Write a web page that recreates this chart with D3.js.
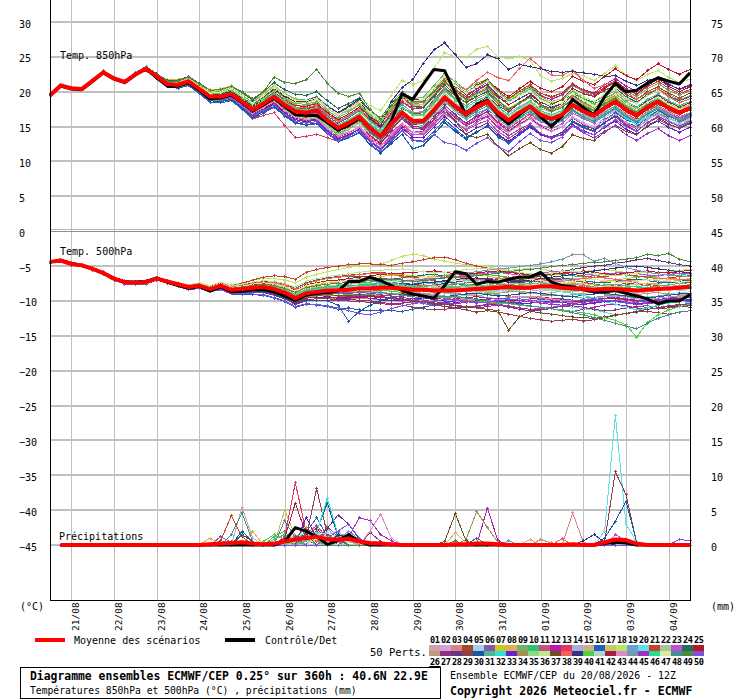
<!DOCTYPE html>
<html lang="fr">
<head>
<meta charset="utf-8">
<title>Diagramme ensembles ECMWF/CEP</title>
<script src="https://cdn.jsdelivr.net/npm/d3@7"></script>
<style>
  body { margin: 0; background: #fff; }
  svg { display: block; font-family: "DejaVu Sans Mono", monospace; }
  .grid line { stroke: #c0c0c0; shape-rendering: crispEdges; }
  .member { fill: none; stroke-width: 1; shape-rendering: crispEdges; }
  .tick text { font-size: 10px; fill: #000; }
</style>
</head>
<body>
<script>
// run 20/08/2026 12Z, 360h, 6-hourly steps
const runStart = new Date(Date.UTC(2026, 7, 20, 12));
const runEnd = new Date(Date.UTC(2026, 8, 4, 12));

const leftTicks = [30, 25, 20, 15, 10, 5, 0, -5, -10, -15, -20, -25, -30, -35, -40, -45];
const rightTicks = [75, 70, 65, 60, 55, 50, 45, 40, 35, 30, 25, 20, 15, 10, 5, 0];

const memberColors = [
  "#d4a0a8", "#d6a0e0", "#e08088", "#a04830", "#a0d0f0", "#8858b0", "#c8c820", "#e0b050", "#70b068", "#30c070",
  "#c85080", "#b818b8", "#e03860", "#a8b0e0", "#d0b080", "#2060c0", "#c8c868", "#b8e860", "#68a0d8", "#60e0e8",
  "#c84028", "#a0c898", "#c050d8", "#207060", "#b81828", "#c09880", "#903080", "#603888", "#904048", "#1858a0",
  "#50b890", "#30e0e0", "#6820d0", "#a09050", "#90d888", "#c0e890", "#705020", "#f06060", "#383080", "#50d040",
  "#b0d8c8", "#a82040", "#e088c8", "#7898b0", "#a030c0", "#20e090", "#e0e8a0", "#409090", "#508840", "#8050e0"
];

// temperature 850 hPa (°C)
const mean850 = [19.5,20.9,20.5,20.4,21.6,22.8,21.9,21.4,22.5,23.3,22.2,21.1,21.0,21.5,20.4,19.3,19.3,19.7,18.6,17.4,18.3,19.3,18.1,17.2,17.0,17.3,15.9,14.8,15.5,16.4,14.8,13.6,15.4,17.0,15.8,15.8,17.4,19.2,17.9,16.8,17.8,18.6,17.0,15.9,17.0,17.9,16.7,16.1,16.7,18.1,17.2,16.6,17.7,18.6,17.4,16.6,17.8,18.6,17.7,17.0,17.7];
const ctrl850 = [19.4,20.8,20.4,20.3,21.5,22.7,21.8,21.3,22.4,23.3,22.0,20.8,20.8,21.3,20.2,19.0,19.1,19.5,18.4,17.2,18.1,19.1,17.9,16.7,16.6,16.6,15.6,14.5,15.2,16.2,14.9,13.6,15.8,19.7,18.9,21.1,23.2,23.0,19.8,16.7,18.1,18.8,16.7,15.4,16.7,17.9,16.4,15.0,16.5,18.9,17.7,16.7,19.3,21.2,20.0,20.2,21.2,22.0,21.5,21.1,22.7];
const pert850 = [
  [19.5,21.0,20.5,20.3,21.6,22.9,21.9,21.3,22.5,23.1,22.2,20.9,20.7,21.3,20.0,19.0,18.8,19.1,18.1,16.6,17.3,18.5,16.9,15.7,16.0,16.0,14.4,13.8,14.2,14.8,13.3,12.4,13.4,14.5,13.8,14.0,15.2,16.7,15.9,15.3,16.6,17.1,16.0,15.1,15.8,16.4,15.7,15.6,15.9,16.9,16.2,16.1,16.7,17.1,16.2,15.8,16.3,16.6,15.2,15.0,16.2],
  [19.4,20.8,20.4,20.4,21.7,22.7,21.8,21.5,22.7,23.5,22.4,21.3,21.2,21.8,20.8,19.8,19.9,20.3,19.3,18.2,19.2,20.4,19.3,18.6,18.5,18.9,17.6,16.6,17.3,18.1,16.6,15.5,17.0,18.8,17.9,18.2,19.8,21.4,20.3,19.0,19.6,20.1,18.5,17.0,17.9,18.6,17.2,16.4,16.8,18.0,17.0,16.2,17.2,18.0,16.9,16.0,17.0,17.9,17.2,16.7,17.4],
  [19.6,20.9,20.6,20.5,21.5,22.9,22.0,21.4,22.4,23.2,22.3,21.0,21.1,21.7,20.6,19.6,19.6,20.1,19.0,17.9,18.9,19.9,18.9,18.1,18.0,18.4,17.0,16.1,16.7,17.4,15.9,14.9,16.4,17.8,16.9,17.2,18.9,20.6,19.5,18.8,19.8,20.7,19.4,18.6,19.6,20.5,19.3,18.6,19.0,20.2,19.3,18.6,19.4,20.1,18.9,18.3,19.5,20.4,19.6,18.9,19.4],
  [19.3,20.7,20.3,20.2,21.4,22.6,21.7,21.2,22.3,23.0,22.0,20.9,20.8,21.2,20.0,18.9,18.9,19.2,18.0,16.8,17.5,18.4,17.3,16.3,16.2,16.6,15.1,14.0,14.9,15.9,14.5,13.6,15.7,17.6,16.8,17.0,18.8,20.5,19.4,18.5,19.6,20.6,19.2,18.4,19.7,20.8,19.8,19.3,19.8,21.1,20.0,19.3,20.2,20.9,19.6,18.9,20.0,20.7,19.8,19.1,19.8],
  [19.5,21.0,20.5,20.3,21.6,22.9,21.9,21.3,22.5,23.1,22.1,21.0,20.8,21.3,20.2,19.1,19.0,19.4,18.3,17.0,17.9,18.8,17.7,16.8,16.5,16.9,15.5,14.3,15.0,15.8,14.1,13.0,14.7,16.3,15.0,15.0,16.3,18.0,16.5,15.2,16.0,16.8,15.3,14.4,15.5,16.2,14.9,14.4,15.0,16.4,15.6,15.0,16.3,17.3,16.2,15.5,16.9,17.6,16.5,15.8,16.6],
  [19.7,21.1,20.6,20.6,21.8,23.0,22.1,21.6,22.7,23.6,22.0,20.8,20.6,21.0,19.8,18.7,18.6,18.9,17.7,16.5,17.2,18.1,16.9,16.0,15.8,16.1,14.7,13.6,14.2,15.0,13.4,12.3,13.9,15.3,14.2,14.3,15.9,17.6,16.4,15.5,16.6,17.5,16.2,15.3,16.5,17.6,16.5,16.0,16.8,18.3,17.5,17.0,18.3,19.4,18.2,17.3,18.3,19.0,17.8,16.9,17.3],
  [19.5,20.9,20.4,20.5,21.6,22.8,22.0,21.3,22.6,23.4,22.5,21.6,21.6,22.2,21.2,20.3,20.4,20.9,19.9,18.8,19.8,20.9,19.8,19.0,18.8,19.2,17.9,16.9,17.6,18.5,17.0,15.9,17.8,19.6,18.5,18.6,20.1,21.8,20.4,19.1,19.9,20.5,18.8,17.6,18.5,19.3,17.9,17.2,17.7,19.0,18.1,17.4,18.4,19.3,18.0,17.2,18.4,19.3,18.3,17.6,18.2],
  [19.6,20.9,20.6,20.5,21.5,22.9,22.0,21.4,22.4,23.2,22.5,21.7,21.8,22.1,20.9,19.6,19.5,19.9,18.7,17.5,18.5,19.6,18.5,17.6,17.5,17.9,16.5,15.5,16.3,17.2,15.7,14.6,16.3,17.8,16.6,16.6,18.2,19.8,18.4,17.2,18.0,18.7,17.0,15.8,16.8,17.5,16.1,15.4,15.9,17.2,16.3,15.6,16.6,17.4,16.1,15.3,16.4,17.2,16.2,15.5,16.2],
  [19.4,20.8,20.4,20.4,21.7,22.7,21.8,21.5,22.7,23.5,22.3,21.3,21.3,21.9,20.9,19.9,20.0,20.5,19.5,18.5,19.6,20.7,19.7,18.9,18.8,19.3,18.0,17.0,17.8,18.8,17.3,16.3,18.3,20.0,19.0,19.2,20.9,22.6,21.4,20.3,21.2,21.8,20.1,18.9,19.9,20.8,19.5,18.9,19.5,20.9,20.0,19.4,20.5,21.3,20.1,19.3,20.4,21.2,20.2,19.5,20.1],
  [19.3,20.7,20.3,20.2,21.4,22.6,21.7,21.2,22.3,23.0,22.0,20.8,20.6,21.1,19.9,18.8,18.7,19.0,17.9,16.6,17.5,18.5,17.2,16.2,16.0,16.3,14.9,13.8,14.6,15.5,14.0,12.9,14.6,16.2,15.0,15.1,16.8,18.6,17.3,16.3,17.4,18.3,16.8,15.8,17.0,18.0,16.9,16.4,17.0,18.5,17.6,16.9,17.9,18.6,17.3,16.4,17.4,18.1,17.0,16.3,16.9],
  [19.5,21.0,20.5,20.3,21.6,22.9,21.9,21.3,22.5,23.1,22.1,21.0,20.9,21.4,20.3,19.1,19.1,19.4,18.3,17.0,17.8,18.6,17.4,16.5,16.3,16.6,15.2,14.0,14.7,15.5,13.8,12.6,14.1,15.5,14.2,14.0,15.4,17.0,15.7,14.5,15.3,15.9,14.3,13.3,14.3,15.2,14.0,13.5,14.1,15.6,14.8,14.3,15.5,16.5,15.4,14.7,16.0,16.9,16.2,15.6,16.4],
  [19.7,21.1,20.6,20.6,21.8,23.0,22.1,21.6,22.7,23.6,22.3,21.2,21.0,21.5,20.4,19.3,19.4,19.8,18.8,17.6,18.6,19.6,18.5,17.6,17.5,17.8,16.5,15.5,16.3,17.3,15.8,14.8,16.7,18.5,17.5,17.7,19.4,21.3,20.1,19.0,20.1,21.0,19.5,18.5,19.7,20.6,19.4,18.9,19.6,21.0,20.3,19.8,21.0,21.9,20.8,20.1,21.3,22.1,21.1,20.3,20.9],
  [19.5,20.9,20.4,20.5,21.6,22.8,22.0,21.3,22.6,23.4,22.0,20.9,20.7,21.1,19.9,18.7,18.6,18.8,17.5,16.1,16.6,17.0,15.2,13.4,13.6,13.9,13.4,12.9,13.8,14.7,13.3,12.2,13.8,15.2,14.1,14.1,15.7,17.5,16.2,15.2,16.2,17.2,15.7,14.7,15.8,16.8,15.7,15.2,15.9,17.3,16.4,15.9,17.0,17.9,16.8,16.0,17.2,18.0,17.1,16.4,17.0],
  [19.6,20.9,20.6,20.5,21.5,22.9,22.0,21.4,22.4,23.2,22.2,21.2,21.0,21.6,20.5,19.4,19.3,19.7,18.7,17.5,18.5,19.5,18.3,17.4,17.2,17.5,16.1,15.0,15.8,16.8,15.2,14.0,15.8,17.3,16.1,16.1,17.7,19.4,18.0,16.9,17.9,18.7,17.3,16.3,17.4,18.2,17.0,16.5,17.1,18.5,17.7,17.2,18.2,19.0,17.8,17.0,18.1,18.9,18.0,17.3,18.0],
  [19.4,20.8,20.4,20.4,21.7,22.7,21.8,21.5,22.7,23.5,22.3,21.1,20.9,21.3,20.1,19.0,18.9,19.3,18.2,17.0,17.9,18.8,17.6,16.6,16.4,16.6,15.2,14.1,14.8,15.7,14.3,13.2,15.0,16.7,15.6,15.7,17.4,19.2,18.0,17.0,18.1,19.0,17.5,16.5,17.7,18.7,17.6,17.1,17.7,19.2,18.3,17.7,18.6,19.4,18.1,17.2,18.2,18.9,17.8,17.0,17.6],
  [19.3,20.7,20.3,20.2,21.4,22.6,21.7,21.2,22.3,23.0,21.9,20.7,20.5,20.9,19.7,18.5,18.4,18.7,17.5,16.2,16.9,17.8,16.5,15.5,15.2,15.4,14.0,12.8,13.4,14.2,12.5,11.3,12.9,14.4,13.1,12.9,14.3,16.0,14.6,13.4,14.3,15.0,13.5,12.6,13.8,14.9,13.9,13.5,14.2,15.8,15.1,14.7,16.0,17.0,16.0,15.4,16.7,17.6,16.8,16.1,16.8],
  [19.5,21.0,20.5,20.3,21.6,22.9,21.9,21.3,22.5,23.1,22.4,21.4,21.4,22.0,21.0,20.0,20.2,20.7,19.8,18.7,19.7,20.8,19.6,18.8,18.7,19.1,17.8,16.8,17.5,18.4,16.9,15.8,17.6,19.3,18.1,18.1,19.6,21.3,19.9,18.7,19.6,20.3,18.6,17.4,18.4,19.2,17.9,17.3,17.8,19.1,18.2,17.6,18.6,19.4,18.2,17.4,18.6,19.5,18.6,17.9,18.6],
  [19.7,21.1,20.6,20.6,21.8,23.0,22.1,21.6,22.7,23.6,22.4,21.3,21.2,21.7,20.6,19.6,19.6,20.0,19.0,17.9,19.0,20.2,19.2,18.4,18.4,18.9,17.8,17.0,18.0,19.2,18.0,17.3,19.5,21.6,21.0,21.6,23.4,25.6,25.0,24.9,26.1,26.5,25.0,24.7,25.0,24.5,22.3,21.5,21.9,22.6,22.3,21.6,22.6,23.7,22.4,21.6,22.5,23.0,22.1,21.3,21.8],
  [19.5,20.9,20.4,20.5,21.6,22.8,22.0,21.3,22.6,23.4,22.1,21.0,20.8,21.4,20.3,19.2,19.1,19.5,18.4,17.2,18.0,19.0,17.8,16.8,16.6,16.9,15.4,14.3,15.1,16.0,14.4,13.2,15.0,16.5,15.3,15.2,16.8,18.5,17.1,16.0,16.9,17.6,16.1,15.0,16.1,17.0,15.8,15.2,15.8,17.2,16.3,15.7,16.8,17.7,16.5,15.6,16.8,17.6,16.7,16.0,16.6],
  [19.4,20.8,20.4,20.4,21.7,22.7,21.8,21.5,22.7,23.5,22.3,21.2,21.1,21.6,20.5,19.4,19.5,19.9,18.8,17.6,18.6,19.6,18.4,17.5,17.3,17.6,16.2,15.1,15.8,16.7,15.1,13.9,15.7,17.3,16.0,16.0,17.6,19.3,17.9,16.7,17.6,18.3,16.6,15.5,16.5,17.4,16.1,15.5,16.0,17.4,16.5,15.8,16.8,17.6,16.3,15.5,16.6,17.3,16.3,15.5,16.1],
  [19.6,20.9,20.6,20.5,21.5,22.9,22.0,21.4,22.4,23.2,22.2,21.1,21.0,21.5,20.5,19.4,19.4,19.8,18.8,17.6,18.6,19.6,18.5,17.7,17.6,18.0,16.7,15.7,16.5,17.5,16.0,15.0,16.9,18.6,17.6,17.8,19.5,21.4,20.3,19.3,20.4,21.4,20.0,19.0,20.1,21.0,19.8,19.2,19.8,21.2,20.2,19.6,20.7,21.6,20.4,19.6,20.7,21.5,20.5,19.7,20.3],
  [19.5,21.0,20.5,20.3,21.6,22.9,21.9,21.3,22.5,23.1,22.1,20.9,20.8,21.3,20.1,19.0,19.0,19.4,18.2,17.0,17.8,18.7,17.5,16.6,16.4,16.6,15.2,14.1,14.8,15.7,14.0,12.9,14.6,16.2,15.0,15.1,16.7,18.5,17.2,16.2,17.2,18.0,16.4,15.4,16.4,17.3,16.1,15.5,16.1,17.5,16.6,16.0,17.0,17.9,16.7,15.9,17.1,17.9,17.0,16.3,17.0],
  [19.3,20.7,20.3,20.2,21.4,22.6,21.7,21.2,22.3,23.0,22.0,20.9,20.7,21.2,20.0,18.9,18.8,19.2,18.0,16.7,17.4,18.3,17.0,16.0,15.7,15.9,14.5,13.3,13.9,14.7,13.1,11.9,13.5,15.0,13.8,13.8,15.3,17.0,15.7,14.6,15.6,16.4,15.0,14.1,15.3,16.3,15.2,14.7,15.4,16.9,16.1,15.5,16.6,17.5,16.4,15.7,16.9,17.8,16.9,16.2,16.9],
  [19.7,21.1,20.6,20.6,21.8,23.0,22.1,21.6,22.7,23.6,22.6,21.6,21.6,22.2,21.2,20.2,20.3,20.8,19.9,18.8,20.0,21.3,20.3,19.6,19.5,20.0,18.7,17.6,18.3,19.1,17.3,16.0,17.7,19.2,17.9,17.8,19.3,21.0,19.6,18.4,19.3,20.0,18.4,17.3,18.4,19.3,18.1,17.6,18.3,19.8,19.0,18.5,19.6,20.5,19.3,18.5,19.6,20.4,19.4,18.7,19.3],
  [19.5,20.9,20.4,20.5,21.6,22.8,22.0,21.3,22.6,23.4,22.3,21.2,21.1,21.7,20.6,19.5,19.5,20.0,18.9,17.8,18.8,19.9,18.8,18.0,17.9,18.3,17.0,16.0,16.8,17.8,16.4,15.4,17.4,19.2,18.2,18.5,20.2,22.1,20.9,19.9,20.9,21.8,20.3,19.3,20.4,21.5,20.5,20.0,20.7,22.2,21.5,21.0,22.2,23.3,22.3,21.7,23.0,24.0,23.2,22.5,23.2],
  [19.5,21.0,20.5,20.3,21.6,22.9,21.9,21.3,22.5,23.1,22.2,21.1,21.0,21.5,20.3,19.2,19.2,19.6,18.5,17.3,18.2,19.1,18.0,17.1,16.9,17.2,15.8,14.7,15.4,16.3,14.7,13.6,15.4,17.1,16.0,16.0,17.7,19.5,18.2,17.2,18.2,19.0,17.4,16.3,17.4,18.3,17.1,16.5,17.1,18.5,17.6,17.0,18.1,19.0,17.8,17.0,18.2,19.0,18.1,17.4,18.1],
  [19.4,20.8,20.4,20.4,21.7,22.7,21.8,21.5,22.7,23.5,22.1,21.0,20.9,21.3,20.2,19.1,19.1,19.5,18.4,17.2,18.1,19.0,17.9,17.0,16.8,17.1,15.7,14.6,15.2,16.0,14.3,13.1,14.8,16.3,15.0,14.9,16.4,18.1,16.7,15.5,16.4,17.1,15.5,14.4,15.4,16.2,15.0,14.4,14.9,16.2,15.3,14.6,15.6,16.4,15.2,14.4,15.5,16.3,15.4,14.7,15.4],
  [19.6,20.9,20.6,20.5,21.5,22.9,22.0,21.4,22.4,23.2,22.3,21.3,21.2,21.7,20.7,19.7,19.8,20.3,19.3,18.2,19.3,20.5,19.5,18.8,18.7,19.2,17.9,16.9,17.7,18.7,17.2,16.2,18.2,19.9,18.8,18.9,20.5,22.2,20.8,19.6,20.4,21.0,19.3,18.1,19.0,19.8,18.5,17.8,18.3,19.6,18.6,17.9,18.9,19.7,18.4,17.6,18.7,19.5,18.5,17.8,18.4],
  [19.3,20.7,20.3,20.2,21.4,22.6,21.7,21.2,22.3,23.0,22.1,21.0,20.9,21.4,20.3,19.2,19.2,19.6,18.5,17.3,18.2,19.2,18.0,17.1,16.9,17.2,15.8,14.7,15.4,16.3,14.6,13.4,15.2,16.8,15.6,15.6,17.2,18.9,17.6,16.5,17.5,18.3,16.7,15.6,16.7,17.6,16.4,15.8,16.4,17.8,16.9,16.3,17.4,18.3,17.1,16.3,17.5,18.3,17.4,16.7,17.4],
  [19.7,21.1,20.6,20.6,21.8,23.0,22.1,21.6,22.7,23.6,22.1,20.9,20.7,21.1,19.9,18.7,18.6,18.9,17.7,16.4,17.1,17.9,16.7,15.6,15.3,15.5,14.1,12.9,13.4,14.1,12.4,11.2,12.6,13.9,11.8,12.3,13.9,15.6,14.3,13.2,14.2,15.1,13.7,12.8,14.0,15.1,14.0,13.5,14.2,15.7,14.9,14.4,15.6,16.6,15.6,15.0,16.3,17.3,16.5,15.9,16.6],
  [19.5,20.9,20.4,20.5,21.6,22.8,22.0,21.3,22.6,23.4,22.3,21.2,21.1,21.7,20.6,19.5,19.5,19.9,18.9,17.7,18.7,19.8,18.7,17.8,17.7,18.1,16.7,15.7,16.4,17.4,15.8,14.7,16.5,18.2,17.0,17.1,18.7,20.4,19.1,18.0,19.0,19.8,18.3,17.2,18.3,19.2,18.0,17.4,18.0,19.4,18.5,17.9,19.0,19.8,18.6,17.8,18.9,19.7,18.7,18.0,18.6],
  [19.5,21.0,20.5,20.3,21.6,22.9,21.9,21.3,22.5,23.1,22.2,21.1,21.0,21.5,20.4,19.3,19.3,19.7,18.6,17.4,18.3,19.3,18.1,17.2,17.0,17.3,15.9,14.8,15.5,16.4,14.9,13.7,15.5,17.1,15.9,15.9,17.5,19.2,17.9,16.8,17.7,18.4,16.8,15.7,16.8,17.6,16.3,15.6,16.1,17.4,16.4,15.7,16.7,17.5,16.2,15.3,16.3,17.0,15.9,15.0,15.6],
  [19.4,20.8,20.4,20.4,21.7,22.7,21.8,21.5,22.7,23.5,22.1,20.9,20.8,21.2,20.0,18.9,18.8,19.1,17.9,16.6,17.4,18.3,17.0,16.0,15.7,15.9,14.4,13.2,13.8,14.6,12.9,11.7,13.3,14.8,13.5,13.4,14.9,16.5,15.1,13.9,14.8,15.5,13.9,12.9,14.0,14.9,13.8,13.3,13.9,15.3,14.4,13.8,14.9,15.8,14.6,13.9,15.0,15.8,14.9,14.2,14.9],
  [19.6,20.9,20.6,20.5,21.5,22.9,22.0,21.4,22.4,23.2,22.3,21.2,21.1,21.6,20.5,19.4,19.4,19.8,18.8,17.6,18.5,19.5,18.4,17.5,17.3,17.6,16.2,15.1,15.8,16.8,15.3,14.2,16.1,17.8,16.7,16.8,18.5,20.3,19.0,18.0,19.0,19.8,18.3,17.3,18.3,19.2,18.0,17.4,18.0,19.4,18.4,17.7,18.7,19.5,18.2,17.3,18.4,19.1,18.1,17.3,17.9],
  [19.3,20.7,20.3,20.2,21.4,22.6,21.7,21.2,22.3,23.0,22.0,20.9,20.7,21.2,20.1,19.0,18.9,19.3,18.1,16.9,17.7,18.6,17.4,16.4,16.2,16.4,15.0,13.9,14.6,15.5,14.0,12.9,14.7,16.4,15.3,15.4,17.1,18.9,17.7,16.7,17.8,18.7,17.2,16.2,17.3,18.2,17.0,16.4,17.0,18.4,17.5,16.9,17.9,18.8,17.6,16.8,17.9,18.7,17.8,17.1,17.8],
  [19.7,21.1,20.6,20.6,21.8,23.0,22.1,21.6,22.7,23.6,22.4,21.4,21.3,21.8,20.8,19.8,19.9,20.4,19.4,18.3,19.4,20.6,19.6,18.8,18.7,19.1,17.8,16.8,17.6,18.6,17.0,15.9,17.9,19.7,18.6,18.8,20.5,22.3,21.0,19.9,20.8,21.5,19.9,18.8,19.7,20.5,19.2,18.5,19.0,20.3,19.3,18.6,19.6,20.4,19.1,18.3,19.4,20.2,19.2,18.5,19.1],
  [19.5,20.9,20.4,20.5,21.6,22.8,22.0,21.3,22.6,23.4,22.1,21.0,20.9,21.4,20.2,19.1,19.1,19.5,18.3,17.1,17.9,18.8,17.6,16.7,16.5,16.8,15.4,14.3,15.0,15.9,14.2,13.0,14.7,16.1,14.8,14.6,15.9,17.4,15.8,13.9,13.4,13.9,12.2,10.8,11.8,12.7,11.7,11.2,12.1,13.8,13.3,13.0,14.2,15.2,14.3,13.8,15.1,16.0,15.3,14.8,15.6],
  [19.5,21.0,20.5,20.3,21.6,22.9,21.9,21.3,22.5,23.1,22.2,21.1,21.0,21.6,20.5,19.4,19.4,19.9,18.8,17.7,18.7,19.7,18.6,17.8,17.7,18.1,16.8,15.8,16.6,17.6,16.2,15.3,17.3,19.1,18.2,18.5,20.3,22.0,21.0,20.3,21.6,22.8,22.0,21.6,23.3,24.8,23.5,22.4,22.3,23.1,21.6,20.5,21.0,21.5,20.0,18.9,19.8,20.4,19.3,18.4,19.0],
  [19.4,20.8,20.4,20.4,21.7,22.7,21.8,21.5,22.7,23.5,22.3,21.2,21.1,21.7,20.6,19.5,19.6,20.1,19.1,18.0,19.1,20.3,19.3,18.6,18.6,19.1,17.9,17.0,17.9,19.0,16.2,15.0,18.6,20.6,21.7,24.1,26.0,27.0,25.3,23.5,24.0,25.3,24.7,23.2,23.9,23.6,23.3,22.9,22.8,22.9,22.7,22.5,22.2,22.3,21.5,20.9,21.6,22.0,21.0,20.4,21.0],
  [19.6,20.9,20.6,20.5,21.5,22.9,22.0,21.4,22.4,23.2,22.4,21.3,21.2,21.8,20.7,19.7,19.8,20.2,19.2,18.1,19.1,20.2,19.1,18.3,18.2,18.6,17.3,16.3,17.1,18.1,16.6,15.6,17.6,19.4,18.4,18.6,20.3,22.2,21.0,19.9,20.8,21.6,19.9,18.7,19.6,20.4,19.0,18.3,18.8,20.1,19.0,18.2,19.1,19.8,18.4,17.5,18.5,19.2,18.1,17.3,17.8],
  [19.3,20.7,20.3,20.2,21.4,22.6,21.7,21.2,22.3,23.0,22.1,21.0,21.0,21.5,20.4,19.3,19.3,19.7,18.6,17.4,18.3,19.3,18.1,17.1,16.9,17.2,15.8,14.7,15.4,16.3,14.8,13.7,15.5,17.2,16.1,16.2,17.9,19.7,18.4,17.4,18.4,19.2,17.6,16.5,17.6,18.4,17.2,16.6,17.2,18.6,17.6,17.0,18.0,18.8,17.5,16.7,17.8,18.6,17.6,16.9,17.5],
  [19.7,21.1,20.6,20.6,21.8,23.0,22.1,21.6,22.7,23.6,22.0,20.9,20.8,21.2,20.1,19.0,19.0,19.3,18.2,16.9,17.6,18.4,17.2,16.2,15.9,16.1,14.7,13.5,14.1,15.0,13.6,12.6,14.5,16.3,15.3,15.5,17.3,19.1,18.0,17.1,18.3,19.3,18.0,17.1,18.4,19.5,18.5,18.1,18.9,20.5,19.7,19.3,20.5,21.5,20.4,19.7,20.9,21.8,20.8,20.0,20.7],
  [19.5,20.9,20.4,20.5,21.6,22.8,22.0,21.3,22.6,23.4,22.1,21.0,20.8,21.3,20.1,19.0,18.9,19.3,18.1,16.9,17.7,18.6,17.3,16.3,16.0,16.2,14.7,13.6,14.2,15.0,13.4,12.2,13.9,15.4,14.2,14.2,15.8,17.5,16.2,15.1,16.1,16.8,15.3,14.2,15.2,16.1,14.9,14.3,14.9,16.3,15.4,14.8,15.9,16.8,15.6,14.8,16.0,16.8,15.9,15.2,15.9],
  [19.5,21.0,20.5,20.3,21.6,22.9,21.9,21.3,22.5,23.1,22.2,21.1,21.1,21.6,20.5,19.4,19.4,19.8,18.7,17.5,18.4,19.4,18.2,17.3,17.1,17.4,16.0,14.9,15.6,16.5,15.0,13.8,15.6,17.2,16.0,16.0,17.6,19.3,18.0,16.9,17.9,18.6,17.0,15.9,16.9,17.8,16.5,15.9,16.4,17.8,16.8,16.1,17.1,17.9,16.6,15.8,16.9,17.7,16.7,16.0,16.6],
  [19.4,20.8,20.4,20.4,21.7,22.7,21.8,21.5,22.7,23.5,22.2,21.1,20.9,21.4,20.3,19.2,19.2,19.6,18.5,17.3,18.2,19.1,17.9,17.0,16.8,17.0,15.6,14.5,15.1,16.0,14.3,13.0,14.6,16.1,14.8,14.7,16.1,17.7,16.3,15.1,15.9,16.5,14.8,13.7,14.6,15.4,14.0,13.4,13.8,15.1,14.1,13.4,14.3,15.1,13.8,13.0,14.0,14.7,13.7,13.0,13.7],
  [19.6,20.9,20.6,20.5,21.5,22.9,22.0,21.4,22.4,23.2,22.3,21.2,21.1,21.6,20.5,19.5,19.5,19.9,18.9,17.7,18.7,19.7,18.5,17.6,17.4,17.7,16.3,15.3,16.0,16.9,15.4,14.3,16.1,17.8,16.7,16.7,18.4,20.1,18.8,17.7,18.7,19.4,17.8,16.7,17.7,18.6,17.3,16.7,17.3,18.7,17.8,17.2,18.2,19.1,17.9,17.1,18.2,19.0,18.0,17.3,17.9],
  [19.3,20.7,20.3,20.2,21.4,22.6,21.7,21.2,22.3,23.0,22.2,21.2,21.2,21.8,20.8,19.8,19.9,20.4,19.4,18.3,19.4,20.6,19.6,18.8,18.7,19.1,17.8,16.8,17.6,18.6,17.1,16.1,18.1,19.8,18.7,18.9,20.5,22.2,20.9,19.8,20.7,21.4,19.7,18.5,19.4,20.1,18.7,18.0,18.4,19.7,18.7,17.9,18.9,19.6,18.3,17.4,18.5,19.2,18.2,17.4,18.0],
  [19.7,21.1,20.6,20.6,21.8,23.0,22.1,21.6,22.7,23.6,22.1,21.0,20.9,21.4,20.2,19.1,19.1,19.5,18.4,17.2,18.0,18.9,17.7,16.8,16.6,16.9,15.5,14.4,15.1,16.0,14.4,13.2,15.0,16.6,15.4,15.4,17.0,18.7,17.4,16.3,17.2,18.0,16.4,15.3,16.3,17.2,16.0,15.4,16.0,17.4,16.4,15.8,16.8,17.6,16.4,15.6,16.8,17.5,16.6,15.8,16.5],
  [19.5,20.9,20.4,20.5,21.6,22.8,22.0,21.3,22.6,23.4,22.5,21.5,21.5,22.1,21.1,20.2,20.3,20.8,20.0,19.0,20.0,22.1,21.3,21.2,21.7,23.2,21.2,19.8,19.3,19.8,17.5,16.0,18.0,19.7,18.6,18.6,20.0,21.6,20.1,18.9,19.8,20.4,18.7,17.5,18.4,19.2,17.9,17.2,17.7,19.0,18.0,17.3,18.3,19.1,17.8,17.0,18.0,18.8,17.8,17.0,17.6],
  [19.5,21.0,20.5,20.3,21.6,22.9,21.9,21.3,22.5,23.1,22.0,20.9,20.7,21.2,20.0,18.9,18.8,19.1,17.9,16.6,17.3,18.1,16.8,15.8,15.5,15.7,14.2,13.0,13.6,14.4,12.8,11.6,13.1,14.4,13.0,12.8,13.9,12.7,12.4,11.6,12.6,13.4,12.1,11.4,12.8,14.0,13.0,12.7,13.5,15.1,14.3,13.8,15.0,16.0,15.0,14.3,15.6,16.5,15.7,15.0,15.8]
];

// temperature 500 hPa (°C)
const mean500 = [-4.4,-4.2,-4.7,-4.9,-5.4,-6.0,-6.8,-7.3,-7.4,-7.3,-6.8,-7.2,-7.6,-8.0,-7.8,-8.3,-7.8,-8.4,-8.3,-8.1,-8.0,-8.3,-8.8,-9.6,-8.9,-8.7,-8.5,-8.5,-8.4,-8.2,-8.2,-8.1,-8.1,-8.2,-8.4,-8.4,-8.5,-8.5,-8.5,-8.4,-8.3,-8.2,-8.1,-8.0,-8.1,-8.1,-7.9,-7.9,-8.1,-8.2,-8.3,-8.4,-8.3,-8.3,-8.4,-8.5,-8.4,-8.3,-8.2,-8.1,-8.0];
const ctrl500 = [-4.4,-4.2,-4.6,-4.9,-5.4,-6.0,-6.8,-7.3,-7.3,-7.2,-6.7,-7.3,-7.8,-8.2,-7.9,-8.6,-8.0,-8.7,-8.6,-8.4,-8.4,-8.7,-9.3,-9.9,-9.2,-8.9,-8.8,-8.6,-7.2,-7.2,-6.6,-7.1,-7.8,-8.5,-9.0,-9.3,-9.6,-7.8,-5.8,-6.1,-7.6,-7.2,-7.3,-6.9,-6.6,-6.6,-5.9,-7.3,-7.8,-8.0,-8.4,-8.7,-8.7,-8.5,-8.9,-9.3,-9.7,-10.4,-10.0,-10.0,-9.1];
const pert500 = [
  [-4.4,-4.2,-4.7,-4.9,-5.4,-6.0,-6.8,-7.3,-7.4,-7.3,-6.7,-7.0,-7.4,-7.8,-7.6,-8.0,-7.5,-8.1,-7.9,-7.6,-7.4,-7.6,-8.0,-8.7,-8.0,-7.7,-7.4,-7.3,-7.1,-6.9,-6.8,-6.7,-6.8,-7.0,-7.1,-7.2,-7.4,-7.3,-7.1,-6.9,-6.8,-6.9,-7.0,-7.2,-7.5,-7.6,-7.4,-7.2,-7.3,-7.5,-7.6,-7.4,-7.2,-7.0,-7.1,-7.4,-7.6,-7.5,-7.3,-7.0,-6.8],
  [-4.3,-4.1,-4.6,-4.8,-5.2,-5.8,-6.6,-7.1,-7.2,-7.0,-6.8,-7.3,-7.7,-8.2,-8.0,-8.4,-8.0,-8.6,-8.5,-8.3,-8.2,-8.5,-9.0,-9.7,-9.1,-8.9,-8.8,-8.7,-8.7,-8.6,-8.7,-8.5,-8.4,-8.6,-8.9,-9.1,-9.0,-8.8,-8.5,-8.3,-8.0,-7.8,-7.7,-7.9,-8.2,-8.4,-8.6,-8.5,-8.3,-8.0,-7.8,-7.9,-8.2,-8.6,-8.8,-8.9,-8.7,-8.4,-8.1,-8.0,-8.2],
  [-4.5,-4.4,-4.9,-5.1,-5.6,-6.2,-7.0,-7.6,-7.7,-7.5,-7.0,-7.4,-7.9,-8.3,-8.2,-8.7,-8.3,-8.9,-8.8,-8.7,-8.7,-9.1,-9.6,-10.3,-9.8,-9.7,-9.6,-9.7,-9.7,-9.6,-9.7,-9.8,-9.9,-10.1,-10.3,-10.2,-10.0,-9.8,-9.7,-9.9,-10.1,-10.0,-9.8,-9.5,-9.3,-9.4,-9.6,-9.9,-10.2,-10.3,-10.1,-9.8,-9.6,-9.5,-9.7,-10.0,-10.2,-10.0,-9.7,-9.5,-9.4],
  [-4.4,-4.3,-4.6,-5.0,-5.5,-6.1,-6.7,-7.2,-7.5,-7.4,-6.7,-7.1,-7.5,-7.8,-7.6,-8.0,-7.4,-7.9,-7.7,-7.4,-7.2,-7.3,-7.6,-8.2,-7.4,-7.0,-6.7,-6.5,-6.3,-6.2,-6.0,-5.9,-6.1,-6.4,-6.6,-6.8,-7.1,-7.3,-7.5,-7.7,-7.6,-7.4,-7.2,-7.0,-7.1,-7.3,-7.2,-7.0,-6.9,-7.1,-7.3,-7.6,-7.8,-7.7,-7.5,-7.4,-7.6,-7.8,-7.7,-7.5,-7.3],
  [-4.3,-4.2,-4.8,-4.9,-5.3,-5.9,-6.9,-7.4,-7.3,-7.1,-6.8,-7.2,-7.6,-8.1,-7.9,-8.3,-7.9,-8.5,-8.4,-8.2,-8.1,-8.4,-8.9,-9.5,-8.8,-8.6,-8.4,-8.5,-8.6,-8.7,-8.8,-8.9,-9.0,-8.8,-8.6,-8.4,-8.2,-8.1,-8.3,-8.6,-8.8,-8.9,-8.8,-8.6,-8.4,-8.2,-8.1,-8.3,-8.6,-8.9,-9.1,-9.0,-8.8,-8.7,-8.9,-9.2,-9.4,-9.3,-9.0,-8.8,-8.7],
  [-4.6,-4.4,-4.8,-5.1,-5.5,-6.2,-7.1,-7.5,-7.6,-7.6,-7.0,-7.5,-7.9,-8.3,-8.1,-8.6,-8.2,-8.8,-8.7,-8.6,-8.5,-8.8,-9.3,-10.0,-9.4,-9.3,-9.2,-9.3,-9.3,-9.2,-9.3,-9.4,-9.6,-9.8,-10.1,-10.4,-10.6,-10.8,-10.9,-11.0,-10.8,-10.6,-10.5,-10.7,-11.0,-11.2,-11.1,-10.9,-10.7,-10.6,-10.4,-10.2,-10.0,-9.9,-10.1,-10.4,-10.7,-10.9,-10.8,-10.6,-10.3],
  [-4.4,-4.2,-4.7,-4.9,-5.4,-6.0,-6.8,-7.3,-7.4,-7.3,-6.7,-7.1,-7.4,-7.8,-7.6,-8.0,-7.6,-8.1,-7.9,-7.7,-7.5,-7.7,-8.1,-8.8,-8.0,-7.7,-7.4,-7.2,-7.0,-6.8,-6.7,-6.5,-6.3,-6.2,-6.4,-6.6,-6.5,-6.3,-6.1,-6.0,-6.2,-6.4,-6.7,-6.9,-7.0,-6.8,-6.5,-6.3,-6.2,-6.4,-6.6,-6.9,-7.1,-7.0,-6.8,-6.6,-6.5,-6.7,-6.9,-7.0,-6.8],
  [-4.3,-4.1,-4.6,-4.8,-5.2,-5.8,-6.6,-7.1,-7.2,-7.0,-6.6,-7.0,-7.5,-7.9,-7.7,-8.2,-7.7,-8.3,-8.2,-8.0,-7.9,-8.2,-8.6,-9.3,-8.6,-8.4,-8.2,-8.2,-8.1,-8.0,-8.0,-7.9,-8.0,-8.2,-8.4,-8.3,-8.1,-8.0,-8.1,-8.3,-8.5,-8.4,-8.2,-8.0,-7.8,-7.7,-7.8,-8.0,-8.2,-8.4,-8.5,-8.3,-8.1,-8.0,-8.2,-8.4,-8.3,-8.1,-7.9,-7.8,-7.9],
  [-4.5,-4.4,-4.9,-5.1,-5.6,-6.2,-7.0,-7.6,-7.7,-7.5,-6.9,-7.3,-7.8,-8.2,-8.0,-8.5,-8.1,-8.7,-8.6,-8.5,-8.4,-8.8,-9.3,-10.1,-9.5,-9.3,-9.2,-9.2,-9.1,-9.0,-9.1,-9.2,-9.1,-8.9,-8.8,-9.0,-9.3,-9.5,-9.4,-9.2,-9.0,-8.9,-9.1,-9.4,-9.6,-9.5,-9.3,-9.1,-9.2,-9.4,-9.6,-9.5,-9.3,-9.2,-9.4,-9.6,-9.5,-9.3,-9.1,-9.0,-9.2],
  [-4.4,-4.3,-4.6,-5.0,-5.5,-6.1,-6.7,-7.2,-7.5,-7.4,-6.8,-7.2,-7.6,-8.0,-7.8,-8.2,-7.7,-8.3,-8.2,-7.9,-7.8,-8.0,-8.4,-9.1,-8.3,-8.1,-7.9,-7.8,-7.6,-7.4,-7.3,-7.1,-7.0,-7.1,-7.2,-7.0,-6.8,-6.6,-6.5,-6.4,-6.3,-6.2,-6.4,-6.6,-6.5,-6.3,-6.1,-6.0,-6.2,-6.4,-6.5,-6.4,-6.2,-6.1,-6.3,-6.5,-6.6,-6.4,-6.2,-6.1,-6.3],
  [-4.3,-4.2,-4.8,-4.9,-5.3,-5.9,-6.9,-7.4,-7.3,-7.1,-6.8,-7.3,-7.7,-8.1,-7.9,-8.4,-8.0,-8.5,-8.5,-8.3,-8.3,-8.6,-9.1,-9.8,-9.2,-9.1,-9.0,-9.0,-8.9,-8.7,-8.6,-8.5,-8.6,-8.8,-9.0,-9.2,-9.4,-9.6,-9.8,-10.0,-10.1,-10.3,-10.4,-10.2,-9.9,-9.7,-9.6,-9.8,-10.0,-10.1,-10.0,-9.8,-9.6,-9.7,-9.9,-10.1,-10.2,-10.0,-9.8,-9.7,-9.8],
  [-4.6,-4.4,-4.8,-5.1,-5.5,-6.2,-7.1,-7.5,-7.6,-7.6,-6.9,-7.4,-7.8,-8.2,-8.0,-8.5,-8.1,-8.6,-8.6,-8.5,-8.5,-8.9,-9.4,-10.2,-9.6,-9.5,-9.4,-9.5,-9.4,-9.3,-9.4,-9.5,-9.7,-9.9,-10.0,-10.2,-10.4,-10.5,-10.7,-10.9,-11.0,-10.8,-10.6,-10.8,-11.0,-11.2,-11.3,-11.1,-11.4,-11.5,-11.2,-10.9,-10.6,-10.5,-10.7,-11.0,-11.2,-11.0,-10.7,-10.5,-10.6],
  [-4.4,-4.2,-4.7,-4.9,-5.4,-6.0,-6.8,-7.3,-7.4,-7.3,-6.8,-7.2,-7.7,-8.1,-7.9,-8.4,-7.9,-8.5,-8.4,-8.2,-8.1,-8.4,-8.9,-9.6,-8.9,-8.7,-8.6,-8.6,-8.5,-8.3,-8.0,-7.8,-7.6,-7.5,-7.7,-7.9,-8.0,-7.8,-7.6,-7.4,-7.3,-7.4,-7.6,-7.8,-8.0,-8.1,-7.9,-7.7,-7.6,-7.8,-8.0,-8.2,-8.1,-7.9,-7.7,-7.6,-7.8,-8.0,-8.1,-7.9,-7.7],
  [-4.3,-4.1,-4.6,-4.8,-5.2,-5.8,-6.6,-7.1,-7.2,-7.0,-6.6,-7.0,-7.4,-7.7,-7.5,-7.9,-7.4,-7.9,-7.8,-7.5,-7.3,-7.5,-7.9,-8.5,-7.8,-7.5,-7.3,-7.2,-7.0,-6.9,-6.9,-7.0,-7.2,-7.3,-7.2,-7.0,-6.8,-6.7,-6.9,-7.1,-7.2,-7.0,-6.8,-6.6,-6.7,-6.9,-7.1,-7.2,-7.0,-6.8,-6.7,-6.9,-7.1,-7.3,-7.2,-7.0,-6.9,-7.1,-7.3,-7.4,-7.2],
  [-4.5,-4.4,-4.9,-5.1,-5.6,-6.2,-7.0,-7.6,-7.7,-7.5,-6.9,-7.3,-7.7,-8.1,-8.0,-8.4,-8.0,-8.6,-8.5,-8.3,-8.2,-8.5,-9.0,-9.8,-9.1,-8.9,-8.8,-8.8,-8.7,-8.6,-8.7,-8.9,-9.0,-8.9,-8.7,-8.5,-8.6,-8.8,-9.0,-9.1,-9.0,-8.8,-8.6,-8.5,-8.7,-8.9,-9.0,-8.8,-8.6,-8.5,-8.6,-8.8,-9.0,-9.1,-8.9,-8.7,-8.6,-8.8,-9.0,-9.1,-8.9],
  [-4.4,-4.3,-4.6,-5.0,-5.5,-6.1,-6.7,-7.2,-7.5,-7.4,-6.9,-7.4,-7.8,-8.3,-8.2,-8.7,-8.4,-9.0,-9.1,-9.1,-9.2,-9.6,-10.1,-10.9,-10.5,-10.6,-10.8,-11.2,-11.0,-11.3,-11.4,-11.3,-11.4,-11.5,-11.2,-10.9,-10.6,-10.3,-10.0,-9.8,-9.7,-9.9,-10.1,-10.3,-10.2,-10.0,-9.8,-9.6,-9.7,-9.9,-10.0,-9.8,-9.6,-9.5,-9.7,-9.9,-10.0,-9.8,-9.6,-9.4,-9.5],
  [-4.3,-4.2,-4.8,-4.9,-5.3,-5.9,-6.9,-7.4,-7.3,-7.1,-6.7,-7.1,-7.5,-7.9,-7.7,-8.1,-7.6,-8.2,-8.1,-7.8,-7.7,-7.9,-8.3,-9.0,-8.3,-8.0,-7.8,-7.7,-7.6,-7.5,-7.5,-7.6,-7.8,-7.9,-7.8,-7.6,-7.5,-7.7,-7.9,-8.0,-7.9,-7.7,-7.5,-7.4,-7.6,-7.8,-7.9,-7.7,-7.5,-7.4,-7.5,-7.7,-7.9,-8.0,-7.8,-7.6,-7.5,-7.7,-7.9,-8.1,-8.0],
  [-4.6,-4.4,-4.8,-5.1,-5.5,-6.2,-7.1,-7.5,-7.6,-7.6,-6.8,-7.2,-7.5,-7.8,-7.5,-7.8,-7.3,-7.7,-7.4,-7.0,-6.8,-6.8,-7.0,-7.4,-6.6,-6.2,-5.8,-5.5,-5.2,-5.0,-4.9,-4.7,-4.2,-3.6,-3.3,-3.5,-4.0,-4.3,-4.6,-4.8,-4.9,-5.1,-5.4,-5.6,-5.5,-5.3,-5.4,-5.7,-5.9,-6.0,-5.8,-5.6,-5.5,-5.7,-5.9,-6.1,-6.2,-6.0,-5.8,-5.6,-5.5],
  [-4.4,-4.2,-4.7,-4.9,-5.4,-6.0,-6.8,-7.3,-7.4,-7.3,-6.8,-7.2,-7.6,-8.0,-7.9,-8.3,-7.9,-8.4,-8.3,-8.2,-8.1,-8.4,-8.8,-9.5,-8.9,-8.7,-8.6,-8.6,-8.5,-8.4,-8.4,-8.3,-8.2,-8.1,-8.2,-8.3,-8.4,-8.3,-8.1,-8.0,-8.1,-8.2,-8.3,-8.2,-8.0,-7.9,-8.0,-8.2,-8.4,-8.5,-8.4,-8.3,-8.2,-8.3,-8.5,-8.6,-8.5,-8.3,-8.2,-8.1,-8.2],
  [-4.3,-4.1,-4.6,-4.8,-5.2,-5.8,-6.6,-7.1,-7.2,-7.0,-6.7,-7.1,-7.6,-8.0,-7.8,-8.2,-7.8,-8.4,-8.3,-8.0,-7.9,-8.2,-8.7,-9.4,-8.7,-8.5,-8.3,-8.3,-8.2,-8.1,-8.0,-7.8,-7.9,-8.1,-8.3,-8.5,-8.7,-8.9,-9.1,-9.2,-9.3,-9.5,-9.7,-9.8,-9.9,-10.1,-10.3,-10.5,-10.7,-10.9,-11.1,-11.3,-11.6,-12.0,-11.8,-11.5,-11.0,-10.6,-10.3,-10.1,-10.2],
  [-4.5,-4.4,-4.9,-5.1,-5.6,-6.2,-7.0,-7.6,-7.7,-7.5,-6.8,-7.2,-7.6,-7.9,-7.6,-8.0,-7.4,-7.8,-7.5,-7.0,-6.6,-6.4,-6.5,-6.9,-5.9,-5.5,-5.2,-5.0,-4.8,-4.7,-4.7,-4.8,-4.9,-4.6,-4.4,-4.1,-3.8,-3.7,-4.1,-4.6,-5.0,-5.3,-5.5,-5.8,-6.0,-6.2,-6.3,-6.1,-6.0,-6.2,-6.4,-6.6,-6.5,-6.3,-6.2,-6.4,-6.6,-6.8,-6.7,-6.5,-6.4],
  [-4.4,-4.3,-4.6,-5.0,-5.5,-6.1,-6.7,-7.2,-7.5,-7.4,-6.8,-7.3,-7.7,-8.1,-8.0,-8.4,-8.0,-8.6,-8.5,-8.4,-8.3,-8.6,-9.1,-9.9,-9.3,-9.1,-9.0,-9.0,-8.9,-8.8,-8.7,-8.6,-8.4,-8.2,-8.0,-7.9,-7.8,-7.9,-8.1,-8.3,-8.4,-8.3,-8.1,-7.9,-7.8,-7.9,-8.1,-8.3,-8.4,-8.3,-8.1,-7.9,-7.8,-7.9,-8.1,-8.3,-8.4,-8.2,-8.0,-7.9,-8.0],
  [-4.3,-4.2,-4.8,-4.9,-5.3,-5.9,-6.9,-7.4,-7.3,-7.1,-6.7,-7.1,-7.5,-7.9,-7.7,-8.1,-7.7,-8.2,-8.1,-7.9,-7.8,-8.1,-8.5,-9.2,-8.5,-8.3,-8.1,-8.0,-7.9,-7.8,-7.7,-7.5,-7.4,-7.2,-7.0,-6.9,-6.8,-6.6,-6.5,-6.3,-6.1,-6.0,-5.9,-6.1,-6.3,-6.2,-6.0,-5.8,-5.7,-5.9,-6.1,-6.3,-6.2,-6.0,-5.9,-6.1,-6.3,-6.4,-6.2,-6.0,-6.1],
  [-4.6,-4.4,-4.8,-5.1,-5.5,-6.2,-7.1,-7.5,-7.6,-7.6,-6.8,-7.2,-7.5,-7.9,-7.6,-8.0,-7.5,-8.0,-7.8,-7.5,-7.3,-7.4,-7.7,-8.2,-7.4,-7.0,-6.7,-6.6,-6.5,-6.5,-6.6,-6.8,-6.9,-6.7,-6.5,-6.3,-6.2,-6.4,-6.6,-6.8,-6.9,-7.0,-7.1,-7.3,-7.4,-7.2,-7.0,-6.8,-6.7,-6.9,-7.1,-7.3,-7.4,-7.2,-7.0,-6.9,-7.1,-7.3,-7.4,-7.2,-7.0],
  [-4.4,-4.2,-4.7,-4.9,-5.4,-6.0,-6.8,-7.3,-7.4,-7.3,-6.7,-7.1,-7.5,-7.9,-7.7,-8.1,-7.6,-8.2,-8.0,-7.7,-7.5,-7.6,-7.9,-8.5,-7.7,-7.4,-7.1,-7.0,-6.8,-6.6,-6.4,-6.2,-6.1,-6.0,-5.9,-5.8,-5.7,-5.9,-6.1,-6.2,-6.0,-5.8,-5.7,-5.9,-6.1,-6.3,-6.4,-6.2,-6.0,-5.8,-5.7,-5.9,-6.1,-6.2,-6.0,-5.8,-5.7,-5.9,-6.0,-5.8,-5.6],
  [-4.3,-4.1,-4.6,-4.8,-5.2,-5.8,-6.6,-7.1,-7.2,-7.0,-6.8,-7.3,-7.7,-8.1,-7.9,-8.4,-8.0,-8.5,-8.4,-8.3,-8.2,-8.5,-9.0,-9.7,-9.0,-8.9,-8.8,-8.8,-8.8,-8.7,-8.7,-8.8,-8.9,-9.1,-9.2,-9.0,-8.8,-8.7,-8.9,-9.1,-9.2,-9.1,-8.9,-8.7,-8.6,-8.8,-9.0,-9.2,-9.3,-9.1,-8.9,-8.8,-9.0,-9.2,-9.3,-9.1,-8.9,-8.8,-9.0,-9.2,-9.1],
  [-4.5,-4.4,-4.9,-5.1,-5.6,-6.2,-7.0,-7.6,-7.7,-7.5,-7.0,-7.5,-7.9,-8.4,-8.2,-8.7,-8.3,-8.9,-8.9,-8.8,-8.8,-9.2,-9.7,-10.5,-10.0,-9.9,-9.9,-10.0,-10.0,-10.1,-10.2,-10.4,-10.5,-10.3,-10.1,-10.2,-10.5,-10.8,-11.0,-10.9,-10.7,-10.5,-10.6,-10.9,-11.2,-11.4,-11.3,-11.0,-10.8,-10.7,-10.9,-11.2,-11.4,-11.3,-11.0,-10.8,-10.9,-11.1,-11.0,-10.8,-10.7],
  [-4.4,-4.3,-4.6,-5.0,-5.5,-6.1,-6.7,-7.2,-7.5,-7.4,-6.8,-7.2,-7.6,-8.0,-7.8,-8.3,-7.8,-8.3,-8.2,-8.0,-7.9,-8.1,-8.6,-9.3,-8.6,-8.4,-8.2,-8.1,-8.0,-7.9,-7.9,-7.8,-7.6,-7.5,-7.6,-7.8,-7.7,-7.5,-7.3,-7.1,-6.9,-6.8,-6.9,-7.1,-7.0,-6.7,-6.4,-6.1,-5.8,-5.5,-5.2,-5.0,-4.9,-4.6,-4.4,-4.1,-3.9,-4.2,-4.5,-4.8,-5.0],
  [-4.3,-4.2,-4.8,-4.9,-5.3,-5.9,-6.9,-7.4,-7.3,-7.1,-6.9,-7.4,-7.8,-8.2,-8.0,-8.5,-8.1,-8.7,-8.7,-8.6,-8.6,-9.0,-9.5,-10.3,-9.8,-9.7,-9.7,-9.8,-9.8,-9.9,-10.0,-10.2,-10.4,-10.6,-10.9,-11.1,-11.3,-11.2,-11.0,-11.3,-11.6,-11.4,-11.6,-11.9,-12.2,-12.5,-12.7,-12.9,-12.8,-12.6,-12.9,-12.7,-12.4,-12.1,-11.8,-11.6,-11.5,-11.7,-11.9,-11.6,-11.4],
  [-4.6,-4.4,-4.8,-5.1,-5.5,-6.2,-7.1,-7.5,-7.6,-7.6,-7.0,-7.4,-7.8,-8.2,-8.1,-8.6,-8.2,-8.8,-8.8,-8.7,-8.7,-9.1,-9.6,-10.4,-9.9,-9.9,-10.0,-10.6,-12.9,-11.5,-10.6,-10.0,-9.6,-9.3,-9.1,-9.3,-9.5,-9.4,-9.2,-9.0,-8.9,-9.1,-9.3,-9.2,-9.0,-8.8,-8.9,-9.1,-9.3,-9.4,-9.2,-9.0,-8.9,-9.1,-9.3,-9.5,-9.6,-9.4,-9.2,-9.0,-8.9],
  [-4.4,-4.2,-4.7,-4.9,-5.4,-6.0,-6.8,-7.3,-7.4,-7.3,-6.8,-7.2,-7.6,-8.0,-7.8,-8.2,-7.8,-8.3,-8.2,-8.0,-7.9,-8.2,-8.6,-9.3,-8.6,-8.4,-8.2,-8.2,-8.1,-8.0,-7.9,-7.7,-7.5,-7.6,-7.8,-8.0,-7.9,-7.7,-7.5,-7.6,-7.8,-8.0,-8.1,-7.9,-7.7,-7.5,-7.4,-7.6,-7.8,-8.0,-8.1,-7.9,-7.7,-7.6,-7.8,-8.0,-8.1,-7.9,-7.7,-7.5,-7.6],
  [-4.3,-4.1,-4.6,-4.8,-5.2,-5.8,-6.6,-7.1,-7.2,-7.0,-6.7,-7.2,-7.6,-8.0,-7.8,-8.3,-7.8,-8.4,-8.3,-8.1,-8.0,-8.3,-8.8,-9.5,-8.8,-8.6,-8.4,-8.3,-8.1,-7.9,-7.6,-7.3,-7.1,-7.0,-7.2,-7.4,-7.5,-7.3,-7.1,-7.0,-7.1,-7.3,-7.5,-7.7,-7.9,-8.1,-8.3,-8.5,-8.7,-8.9,-9.2,-9.6,-10.1,-10.5,-10.9,-11.3,-11.0,-10.6,-10.2,-9.9,-9.7],
  [-4.5,-4.4,-4.9,-5.1,-5.6,-6.2,-7.0,-7.6,-7.7,-7.5,-6.9,-7.4,-7.8,-8.2,-8.1,-8.6,-8.2,-8.8,-8.7,-8.6,-8.5,-8.9,-9.4,-10.1,-9.6,-9.5,-9.5,-9.6,-9.6,-9.5,-9.6,-9.8,-10.0,-9.9,-9.7,-9.6,-9.8,-10.0,-10.2,-10.1,-9.9,-9.8,-10.0,-10.2,-10.4,-10.3,-10.1,-10.0,-10.2,-10.4,-10.5,-10.3,-10.1,-10.0,-10.2,-10.4,-10.3,-10.1,-9.9,-9.8,-10.0],
  [-4.4,-4.3,-4.6,-5.0,-5.5,-6.1,-6.7,-7.2,-7.5,-7.4,-6.7,-7.2,-7.6,-8.0,-7.7,-8.2,-7.7,-8.3,-8.2,-7.9,-7.8,-8.1,-8.5,-9.2,-8.5,-8.2,-8.0,-7.9,-7.8,-7.7,-7.7,-7.8,-8.0,-8.1,-8.0,-7.8,-7.7,-7.9,-8.1,-8.2,-8.1,-7.9,-7.7,-7.6,-7.8,-8.0,-8.1,-7.9,-7.7,-7.6,-7.8,-8.0,-8.2,-8.3,-8.1,-7.9,-7.8,-8.0,-8.2,-8.3,-8.1],
  [-4.3,-4.2,-4.8,-4.9,-5.3,-5.9,-6.9,-7.4,-7.3,-7.1,-6.8,-7.2,-7.6,-8.0,-7.8,-8.3,-7.9,-8.4,-8.3,-8.1,-8.0,-8.3,-8.7,-9.4,-8.7,-8.5,-8.3,-8.3,-8.2,-8.1,-8.1,-8.2,-8.4,-8.6,-8.8,-8.7,-8.5,-8.3,-8.2,-8.4,-8.6,-8.7,-8.5,-8.3,-8.1,-8.0,-8.2,-8.4,-8.6,-8.7,-8.5,-8.3,-8.1,-8.0,-8.2,-8.4,-8.6,-8.5,-8.3,-8.1,-8.0],
  [-4.6,-4.4,-4.8,-5.1,-5.5,-6.2,-7.1,-7.5,-7.6,-7.6,-6.7,-7.1,-7.4,-7.7,-7.4,-7.8,-7.3,-7.8,-7.6,-7.3,-7.1,-7.2,-7.5,-8.0,-7.2,-6.8,-6.5,-6.3,-6.1,-5.9,-5.7,-5.6,-5.5,-5.4,-5.6,-5.8,-6.0,-5.9,-5.7,-5.5,-5.4,-5.3,-5.5,-5.7,-5.9,-6.1,-6.2,-6.0,-5.8,-5.7,-5.9,-6.1,-6.3,-6.4,-6.2,-6.0,-5.9,-6.1,-6.3,-6.4,-6.2],
  [-4.4,-4.2,-4.7,-4.9,-5.4,-6.0,-6.8,-7.3,-7.4,-7.3,-6.8,-7.3,-7.7,-8.1,-7.9,-8.4,-8.0,-8.6,-8.5,-8.4,-8.3,-8.7,-9.2,-9.9,-9.3,-9.2,-9.1,-9.2,-9.2,-9.1,-9.2,-9.4,-9.5,-9.7,-9.9,-10.1,-10.3,-10.5,-10.6,-10.8,-11.0,-11.2,-11.4,-14.2,-12.3,-11.5,-11.7,-11.9,-12.1,-12.3,-12.4,-12.5,-12.3,-12.0,-11.8,-11.5,-11.2,-11.0,-10.8,-10.7,-10.9],
  [-4.3,-4.1,-4.6,-4.8,-5.2,-5.8,-6.6,-7.1,-7.2,-7.0,-6.7,-7.1,-7.5,-7.9,-7.6,-8.0,-7.5,-8.0,-7.8,-7.5,-7.3,-7.4,-7.7,-8.3,-7.5,-7.1,-6.8,-6.6,-6.4,-6.2,-6.1,-6.0,-6.2,-6.5,-6.7,-6.8,-6.6,-6.4,-6.5,-6.7,-6.9,-7.0,-6.8,-6.6,-6.5,-6.7,-6.9,-7.1,-7.2,-7.0,-6.8,-6.6,-6.7,-6.9,-7.1,-7.2,-7.0,-6.8,-6.7,-6.9,-7.0],
  [-4.5,-4.4,-4.9,-5.1,-5.6,-6.2,-7.0,-7.6,-7.7,-7.5,-6.9,-7.3,-7.7,-8.1,-7.9,-8.4,-7.9,-8.5,-8.4,-8.2,-8.1,-8.4,-8.9,-9.6,-8.9,-8.7,-8.6,-8.5,-8.4,-8.3,-8.3,-8.2,-8.0,-7.8,-7.6,-7.4,-7.3,-7.1,-6.9,-6.8,-6.7,-6.9,-7.1,-7.3,-7.2,-7.0,-6.8,-6.6,-6.4,-6.2,-6.0,-5.7,-5.5,-5.3,-5.1,-5.0,-5.2,-5.4,-5.6,-5.8,-6.0],
  [-4.4,-4.3,-4.6,-5.0,-5.5,-6.1,-6.7,-7.2,-7.5,-7.4,-6.8,-7.2,-7.6,-8.0,-7.8,-8.3,-7.8,-8.4,-8.3,-8.1,-8.0,-8.3,-8.7,-9.4,-8.7,-8.5,-8.3,-8.3,-8.2,-8.1,-8.2,-8.4,-8.6,-8.8,-9.0,-9.2,-9.4,-9.5,-9.6,-9.8,-10.0,-10.1,-10.3,-10.4,-10.6,-10.8,-10.9,-11.1,-11.3,-11.5,-11.7,-12.0,-12.4,-12.8,-13.4,-15.2,-13.1,-12.0,-11.3,-10.8,-10.5],
  [-4.3,-4.2,-4.8,-4.9,-5.3,-5.9,-6.9,-7.4,-7.3,-7.1,-6.7,-7.1,-7.5,-7.9,-7.7,-8.2,-7.7,-8.3,-8.2,-8.0,-7.9,-8.1,-8.5,-9.2,-8.5,-8.3,-8.1,-8.1,-8.0,-7.9,-8.0,-8.1,-8.3,-8.4,-8.3,-8.1,-7.9,-7.8,-7.9,-8.1,-8.3,-8.5,-8.6,-8.4,-8.2,-8.1,-8.3,-8.5,-8.6,-8.4,-8.2,-8.1,-8.3,-8.5,-8.7,-8.8,-8.6,-8.4,-8.3,-8.5,-8.6],
  [-4.6,-4.4,-4.8,-5.1,-5.5,-6.2,-7.1,-7.5,-7.6,-7.6,-6.9,-7.4,-7.8,-8.2,-8.1,-8.6,-8.1,-8.7,-8.7,-8.5,-8.5,-8.9,-9.4,-10.2,-9.6,-9.5,-9.4,-9.5,-9.5,-9.4,-9.4,-9.3,-9.1,-9.0,-9.2,-9.4,-9.6,-9.8,-9.7,-9.5,-9.4,-9.6,-9.8,-10.0,-9.9,-9.7,-9.5,-9.6,-9.8,-10.0,-10.1,-9.9,-9.7,-9.6,-9.8,-10.0,-10.1,-9.9,-9.7,-9.6,-9.8],
  [-4.4,-4.2,-4.7,-4.9,-5.4,-6.0,-6.8,-7.3,-7.4,-7.3,-6.8,-7.2,-7.6,-8.0,-7.8,-8.2,-7.8,-8.3,-8.2,-8.0,-7.9,-8.2,-8.6,-9.3,-8.6,-8.4,-8.2,-8.2,-8.1,-8.0,-8.0,-8.1,-8.3,-8.5,-8.7,-8.9,-9.1,-9.3,-9.5,-9.7,-9.9,-10.0,-9.8,-9.6,-9.4,-9.3,-9.5,-9.7,-9.9,-10.0,-9.8,-9.6,-9.4,-9.3,-9.5,-9.7,-9.8,-9.6,-9.4,-9.3,-9.4],
  [-4.3,-4.1,-4.6,-4.8,-5.2,-5.8,-6.6,-7.1,-7.2,-7.0,-6.7,-7.1,-7.5,-7.9,-7.7,-8.1,-7.7,-8.2,-8.1,-7.9,-7.8,-8.0,-8.4,-9.1,-8.4,-8.2,-8.0,-7.9,-7.8,-7.7,-7.6,-7.5,-7.3,-7.1,-6.9,-6.8,-6.6,-6.4,-6.2,-6.0,-5.8,-5.6,-5.4,-5.3,-5.1,-4.9,-4.7,-4.4,-4.0,-3.4,-3.4,-4.3,-3.9,-4.6,-5.2,-5.6,-5.9,-6.1,-6.3,-6.4,-6.5],
  [-4.5,-4.4,-4.9,-5.1,-5.6,-6.2,-7.0,-7.6,-7.7,-7.5,-6.9,-7.3,-7.8,-8.2,-8.0,-8.5,-8.1,-8.6,-8.6,-8.4,-8.3,-8.7,-9.2,-9.9,-9.3,-9.1,-9.0,-9.0,-8.9,-8.8,-8.9,-9.1,-9.3,-9.5,-9.7,-9.9,-10.1,-10.3,-10.4,-10.2,-10.0,-9.8,-9.6,-9.7,-9.9,-10.1,-10.3,-10.5,-10.6,-10.4,-10.2,-10.0,-9.9,-10.1,-10.3,-10.5,-10.4,-10.2,-10.0,-9.9,-10.1],
  [-4.4,-4.3,-4.6,-5.0,-5.5,-6.1,-6.7,-7.2,-7.5,-7.4,-6.8,-7.2,-7.6,-8.0,-7.8,-8.2,-7.7,-8.3,-8.2,-7.9,-7.8,-8.1,-8.5,-9.2,-8.5,-8.3,-8.1,-8.0,-7.9,-7.8,-7.8,-7.7,-7.6,-7.8,-8.0,-8.2,-8.3,-8.1,-7.9,-7.8,-7.7,-7.9,-8.1,-8.3,-8.4,-8.2,-8.0,-7.8,-7.7,-7.9,-8.1,-8.3,-8.4,-8.2,-8.0,-7.9,-8.1,-8.3,-8.4,-8.2,-8.0],
  [-4.3,-4.2,-4.8,-4.9,-5.3,-5.9,-6.9,-7.4,-7.3,-7.1,-6.7,-7.1,-7.5,-7.9,-7.6,-8.0,-7.5,-8.1,-7.9,-7.6,-7.4,-7.6,-7.9,-8.6,-7.8,-7.5,-7.3,-7.2,-7.1,-7.0,-7.0,-7.1,-7.2,-7.1,-6.9,-6.7,-6.6,-6.8,-7.0,-7.2,-7.3,-7.2,-7.0,-6.8,-6.7,-6.9,-7.1,-7.3,-7.4,-7.2,-7.0,-6.9,-7.1,-7.3,-7.4,-7.2,-7.0,-6.9,-7.1,-7.3,-7.2],
  [-4.6,-4.4,-4.8,-5.1,-5.5,-6.2,-7.1,-7.5,-7.6,-7.6,-6.9,-7.3,-7.7,-8.1,-8.0,-8.5,-8.0,-8.6,-8.5,-8.3,-8.2,-8.6,-9.1,-9.8,-9.2,-9.0,-8.9,-8.9,-8.8,-8.7,-8.7,-8.8,-9.0,-9.2,-9.4,-9.6,-9.5,-9.3,-9.4,-9.6,-9.8,-10.0,-10.2,-10.3,-10.5,-10.7,-10.9,-11.1,-11.4,-11.7,-12.0,-12.4,-12.8,-13.2,-13.6,-14.0,-13.2,-12.5,-12.0,-11.6,-11.4],
  [-4.4,-4.2,-4.7,-4.9,-5.4,-6.0,-6.8,-7.3,-7.4,-7.3,-6.7,-7.1,-7.5,-7.9,-7.7,-8.1,-7.6,-8.2,-8.0,-7.8,-7.6,-7.8,-8.2,-8.8,-8.1,-7.8,-7.6,-7.5,-7.3,-7.2,-7.1,-7.0,-6.9,-7.0,-7.2,-7.1,-6.9,-6.7,-6.6,-6.5,-6.4,-6.2,-6.0,-5.8,-5.6,-5.5,-5.3,-5.1,-4.9,-4.8,-4.6,-4.5,-4.4,-4.2,-4.0,-3.8,-3.3,-3.5,-3.2,-4.0,-4.4],
  [-4.3,-4.1,-4.6,-4.8,-5.2,-5.8,-6.6,-7.1,-7.2,-7.0,-6.9,-7.4,-7.8,-8.3,-8.2,-8.7,-8.4,-9.0,-9.0,-9.0,-9.1,-9.5,-10.0,-10.8,-10.4,-10.5,-10.7,-11.0,-11.4,-11.8,-12.0,-11.6,-11.1,-10.7,-10.4,-10.2,-10.0,-9.8,-9.9,-10.1,-10.3,-10.2,-10.0,-9.8,-9.7,-9.9,-10.1,-10.3,-10.2,-10.0,-9.8,-9.7,-9.9,-10.1,-10.3,-10.2,-10.0,-9.8,-9.7,-9.9,-10.1]
];

// 6h precipitation (mm): [step, mm] for the wet steps, every other step is dry
const meanRain = [[15,0.1],[16,0.2],[17,0.3],[18,0.4],[19,0.2],[20,0.1],[21,0.2],[22,0.5],[23,0.8],[24,1.0],[25,1.2],[26,0.8],[27,0.8],[28,0.9],[29,0.5],[30,0.3],[31,0.2],[32,0.1],[38,0.1],[39,0.1],[40,0.2],[41,0.2],[42,0.1],[49,0.1],[52,0.4],[53,0.8],[54,0.7],[55,0.2]];
const ctrlRain = [[22,0.5],[23,2.5],[24,2.0],[25,1.2],[26,0.1],[27,0.6],[28,1.5],[29,0.5],[52,0.2],[53,0.4],[54,0.3]];
const pertRain = [
  [[18,5.4],[19,1.0],[23,0.8],[24,1.5],[25,0.6]],
  [[24,1.2],[25,2.0],[26,0.5]],
  [[22,0.6],[23,1.4],[49,4.6],[50,0.4]],
  [[17,0.5],[24,2.2],[25,1.0]],
  [[25,1.5],[26,2.3],[27,0.8]],
  [[16,1.2],[17,0.4],[26,2.6],[27,1.2]],
  [[24,0.8],[27,1.8],[28,0.5]],
  [[15,1.0],[19,2.0],[22,5.0],[23,1.2],[38,1.8],[39,0.3]],
  [[23,1.0],[24,2.5],[25,0.8]],
  [[21,1.2],[22,2.0],[26,1.0]],
  [[24,1.6],[25,2.8],[26,1.0]],
  [[25,1.2],[41,5.3],[42,0.6]],
  [[22,1.2],[23,8.9],[24,2.0],[25,0.5]],
  [[26,1.4],[27,2.0],[28,0.6]],
  [[24,0.9],[25,1.5],[45,0.8]],
  [[24,1.8],[25,3.9],[26,1.2]],
  [[23,0.6],[26,1.6],[27,0.7]],
  [[25,0.8],[26,1.2]],
  [[27,0.8],[28,2.0],[29,0.8]],
  [[52,2.0],[53,18.6],[54,3.0],[55,0.4]],
  [[16,0.6],[17,4.2],[18,1.2],[24,1.0]],
  [[23,0.5],[24,1.3],[25,0.9]],
  [[25,1.0],[26,1.8],[53,1.5],[54,0.6]],
  [[18,1.5],[19,0.5],[27,1.4],[40,1.0]],
  [[24,1.4],[25,2.4],[26,0.8]],
  [[25,1.6],[26,1.0],[46,0.8],[47,0.3]],
  [[23,1.2],[24,1.0],[30,1.8],[31,0.5]],
  [[25,0.8],[26,2.4],[27,4.3],[28,3.0],[29,0.8]],
  [[24,1.0],[25,8.1],[26,1.5],[52,0.5],[53,10.5],[54,7.2],[55,0.3]],
  [[18,2.0],[19,0.4],[25,2.0],[26,6.0],[27,1.2],[52,1.0],[53,3.4],[54,6.3],[55,0.4]],
  [[21,0.8],[22,1.5],[23,0.5]],
  [[25,1.8],[26,6.7],[27,1.5]],
  [[24,4.0],[25,1.0],[28,1.2]],
  [[39,0.8],[40,4.8],[41,2.5],[42,0.4]],
  [[23,0.7],[24,1.1],[26,0.8]],
  [[25,1.3],[26,0.7]],
  [[27,1.0],[37,0.5],[38,4.5],[39,0.6]],
  [[24,1.2],[25,0.6],[48,0.9]],
  [[27,1.5],[28,1.0],[50,0.6],[51,1.5],[52,0.4]],
  [[20,0.5],[21,1.5],[22,0.8],[24,1.0]],
  [[25,1.4],[26,1.8],[27,0.5]],
  [[22,1.0],[23,6.0],[24,1.6]],
  [[28,0.8],[30,2.0],[31,4.4],[32,1.0]],
  [[24,0.6],[25,1.4],[43,0.6]],
  [[28,1.2],[29,3.9],[30,3.5],[31,1.5],[32,0.6]],
  [[23,0.8],[24,1.9],[25,0.8]],
  [[25,0.9],[26,0.5]],
  [[17,1.5],[18,4.6],[19,0.5],[22,3.5],[23,1.0]],
  [[26,1.1],[27,0.7],[38,0.6]],
  [[26,1.0],[27,2.0],[28,3.0],[29,1.0],[59,0.8],[60,0.6]]
];

const W = 740, H = 700;
const L = 50, R = 690, T = 0, B = 600;

const steps = d3.utcHour.every(6).range(runStart, new Date(+runEnd + 1));
const rainSteps = steps.slice(1);

const x = d3.scaleUtc().domain([runStart, runEnd]).range([L, R]);
const y = d3.scaleLinear().domain([-45, 30]).range([545, 22]);   // °C, both panels
const y2 = d3.scaleLinear().domain([0, 75]).range([545, 22]);    // mm, right axis

const svg = d3.select("body").append("svg")
    .attr("width", W)
    .attr("height", H);

svg.append("rect").attr("width", W).attr("height", H).attr("fill", "#fff");

// grid
const days = d3.utcDay.range(d3.utcDay.ceil(runStart), runEnd);
const grid = svg.append("g").attr("class", "grid");
grid.selectAll(".v").data(days).join("line")
    .attr("x1", d => Math.round(x(d)) + 0.5).attr("x2", d => Math.round(x(d)) + 0.5)
    .attr("y1", T).attr("y2", B)
    .attr("stroke-width", 1);
grid.selectAll(".h").data(leftTicks.filter(d => d !== 0)).join("line")
    .attr("x1", L).attr("x2", R)
    .attr("y1", d => Math.round(y(d))).attr("y2", d => Math.round(y(d)))
    .attr("stroke-width", 2);
// panel separator at 0 °C
svg.append("line").attr("x1", L).attr("x2", R)
    .attr("y1", Math.round(y(0)) - 1.5).attr("y2", Math.round(y(0)) - 1.5)
    .attr("stroke", "#b4b4b4").attr("stroke-width", 1.5).attr("shape-rendering", "crispEdges");
svg.append("line").attr("x1", L).attr("x2", R)
    .attr("y1", Math.round(y(0)) + 0.5).attr("y2", Math.round(y(0)) + 0.5)
    .attr("stroke", "#8c8c8c").attr("stroke-width", 1.5).attr("shape-rendering", "crispEdges");

// axes
const axL = svg.append("g").attr("transform", `translate(${L},0)`)
    .call(d3.axisLeft(y).tickValues(leftTicks).tickSize(0).tickPadding(0));
axL.select(".domain").remove();
axL.selectAll("text").attr("text-anchor", "start").attr("x", 19 - L).attr("dy", "0.35em").attr("y", 1.5)
    .style("font-family", "DejaVu Sans Mono, monospace");

const axR = svg.append("g").attr("transform", `translate(${R},0)`)
    .call(d3.axisRight(y2).tickValues(rightTicks).tickSize(0).tickPadding(0));
axR.select(".domain").remove();
axR.selectAll("text").attr("text-anchor", "start").attr("x", 711 - R).attr("dy", "0.35em").attr("y", 1.5)
    .style("font-family", "DejaVu Sans Mono, monospace");

const fmt = d3.utcFormat("%d/%m");
svg.append("g").selectAll("text").data(days).join("text")
    .attr("transform", d => `translate(${x(d) + 8},631) rotate(-90)`)
    .attr("font-size", 9.5)
    .text(fmt);

// series
const line = d3.line().x(d => x(d[0])).y(d => d[1]);
function crosses(pts) {
  return pts.map(p => `M${x(p[0]) - 1.5},${p[1]}h3M${x(p[0])},${p[1] - 1.5}v3`).join("");
}
function tempPts(vals) { return vals.map((v, i) => [steps[i], y(v)]); }
function rainPts(wet) {
  const byStep = new Map(wet);
  return rainSteps.map((s, i) => [s, y2(byStep.get(i + 1) || 0)]);
}

const plot = svg.append("g");
function drawMembers(ptsList) {
  ptsList.forEach((pts, k) => {
    plot.append("path").attr("class", "member").attr("stroke", memberColors[k]).attr("d", line(pts));
    plot.append("path").attr("class", "member").attr("stroke", memberColors[k]).attr("d", crosses(pts));
  });
}
drawMembers(pert850.map(tempPts));
drawMembers(pert500.map(tempPts));
drawMembers(pertRain.map(rainPts));

[tempPts(ctrl850), tempPts(ctrl500), rainPts(ctrlRain)].forEach(pts =>
  plot.append("path").attr("fill", "none").attr("stroke", "#000").attr("stroke-width", 3)
      .attr("stroke-linejoin", "round").attr("d", line(pts)));
[tempPts(mean850), tempPts(mean500), rainPts(meanRain)].forEach(pts =>
  plot.append("path").attr("fill", "none").attr("stroke", "#ff0000").attr("stroke-width", 4)
      .attr("stroke-linejoin", "round").attr("d", line(pts)));

// frame
svg.append("path").attr("fill", "none").attr("stroke", "#000").attr("shape-rendering", "crispEdges")
    .attr("d", `M${L + 0.5},${T}V${B + 0.5}H${R + 0.5}V${T}`);

// panel labels
const lab = (tx, ty, s, size, bold) => svg.append("text").attr("x", tx).attr("y", ty)
    .attr("font-size", size).attr("font-weight", bold ? "bold" : null).text(s);
lab(60, 59, "Temp. 850hPa", 10);
lab(60, 255, "Temp. 500hPa", 10);
lab(59, 540, "Précipitations", 10);
lab(20, 610, "(°C)", 10);
lab(711, 610, "(mm)", 10);

// legend
svg.append("line").attr("x1", 35).attr("x2", 65).attr("y1", 640).attr("y2", 640)
    .attr("stroke", "#ff0000").attr("stroke-width", 4);
lab(74, 643.5, "Moyenne des scénarios", 10);
svg.append("line").attr("x1", 225).attr("x2", 255).attr("y1", 640).attr("y2", 640)
    .attr("stroke", "#000").attr("stroke-width", 4);
lab(265, 643.5, "Contrôle/Det", 10);
lab(370, 656, "50 Perts.", 10.5);

const sw = svg.append("g");
memberColors.forEach((c, k) => {
  const col = k % 25, row = Math.floor(k / 25);
  const sx = 429.3 + col * 11;
  sw.append("rect").attr("x", sx).attr("y", row ? 650.7 : 645).attr("width", 11).attr("height", 5.7)
      .attr("fill", c).attr("shape-rendering", "crispEdges");
  sw.append("text").attr("x", sx + 5.5).attr("y", row ? 664.5 : 642.5)
      .attr("text-anchor", "middle").attr("font-size", 8.6).attr("font-weight", "bold")
      .attr("letter-spacing", -0.4)
      .text(String(k + 1).padStart(2, "0"));
});
svg.append("line").attr("x1", 429.3).attr("x2", 440.5).attr("y1", 666.5).attr("y2", 666.5)
    .attr("stroke", "#000").attr("stroke-width", 1);

// footer
svg.append("rect").attr("x", 20.5).attr("y", 667.5).attr("width", 419.5).attr("height", 31)
    .attr("fill", "#fff").attr("stroke", "#000").attr("shape-rendering", "crispEdges");
lab(30, 680, "Diagramme ensembles ECMWF/CEP 0.25° sur 360h : 40.6N 22.9E", 11.4, true);
lab(30, 694, "Températures 850hPa et 500hPa (°C) , précipitations (mm)", 9.7);
lab(450, 679, "Ensemble ECMWF/CEP du 20/08/2026 - 12Z", 9.9);
lab(450, 695, "Copyright 2026 Meteociel.fr - ECMWF", 11.5, true);
</script>
</body>
</html>
